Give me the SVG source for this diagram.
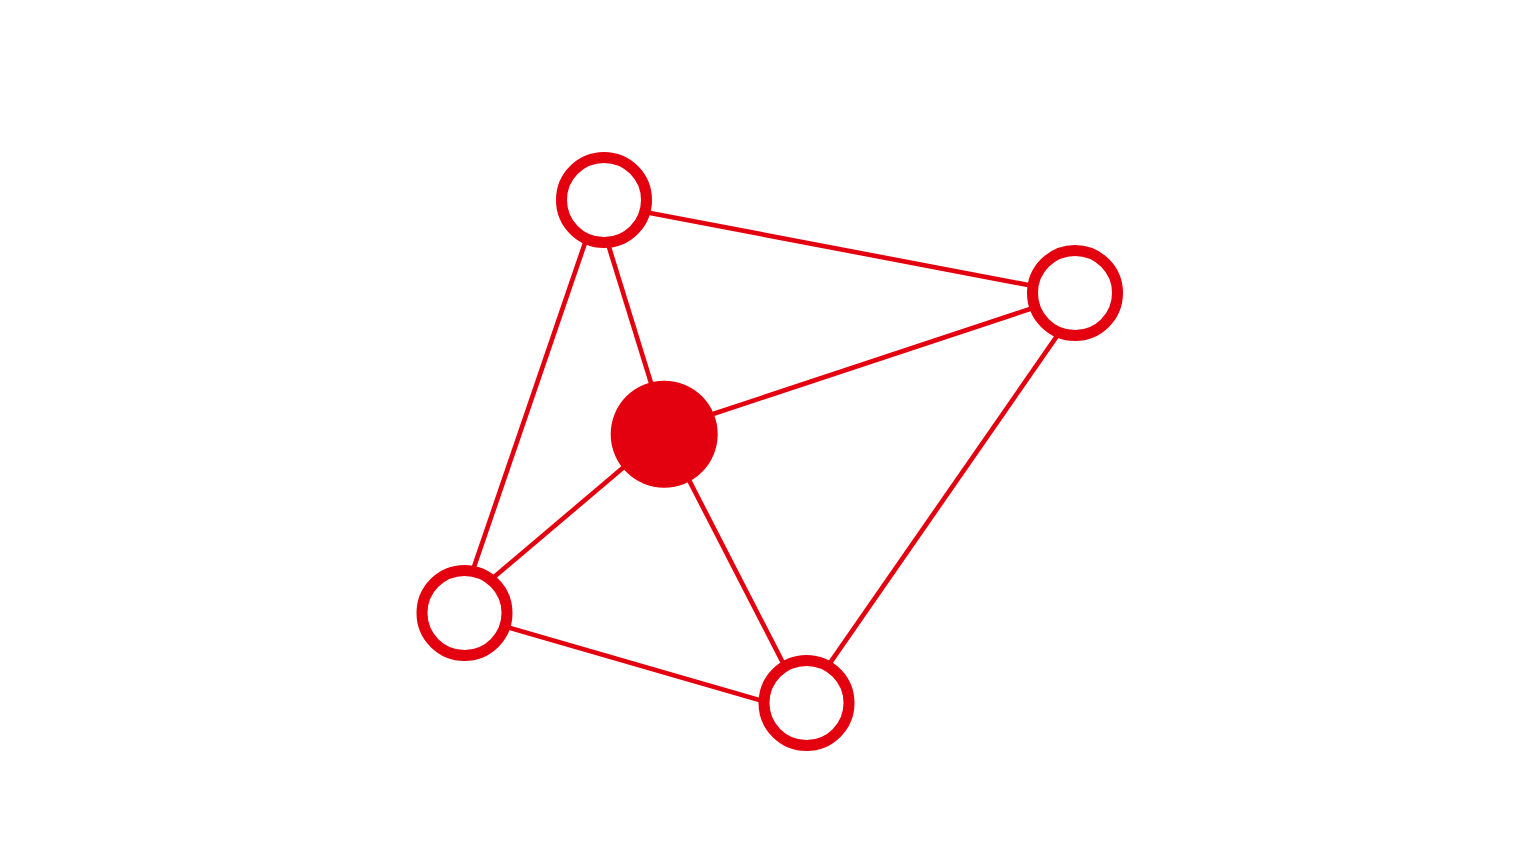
<svg xmlns="http://www.w3.org/2000/svg" width="1540" height="866" viewBox="0 0 1540 866" shape-rendering="geometricPrecision">
  <style>
    .edge { stroke: #E3000F; stroke-width: 4.6; fill: none; }
    .ring { fill: #FFFFFF; stroke: #E3000F; stroke-width: 11; }
    .hub { fill: #E3000F; }
  </style>
  <rect width="1540" height="866" fill="#FFFFFF"/>
  <g id="connectors">
    <line class="edge" x1="642.1" y1="211.5" x2="1035.9" y2="286.5"/>
    <line class="edge" x1="587.6" y1="235.4" x2="471.4" y2="574.6"/>
    <line class="edge" x1="606.6" y1="239.4" x2="653.4" y2="390.6"/>
    <line class="edge" x1="1037.6" y1="306.5" x2="705.4" y2="416.5"/>
    <line class="edge" x1="1061.6" y1="329.4" x2="825.4" y2="669.6"/>
    <line class="edge" x1="630.1" y1="461.8" x2="487.9" y2="582.2"/>
    <line class="edge" x1="685.3" y1="472.9" x2="786.7" y2="670.1"/>
    <line class="edge" x1="502.3" y1="625.8" x2="766.7" y2="702.2"/>
  </g>
  <g id="node-top"><circle class="ring" cx="604" cy="200" r="42.5"/></g>
  <g id="node-right"><circle class="ring" cx="1075" cy="293" r="42.5"/></g>
  <g id="node-center"><circle class="hub" cx="664.2" cy="434.2" r="53.5"/></g>
  <g id="node-bottom-left"><circle class="ring" cx="464.5" cy="613" r="42.5"/></g>
  <g id="node-bottom"><circle class="ring" cx="806.5" cy="703" r="42.5"/></g>
</svg>
